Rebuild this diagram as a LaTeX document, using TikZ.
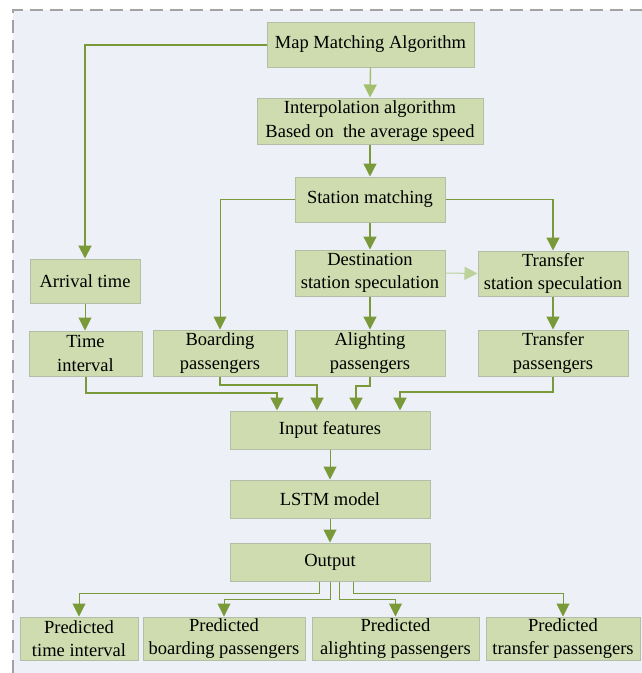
\documentclass[tikz,border=0pt]{standalone}
\usepackage{fontspec}
\setmainfont{Liberation Serif}
\usetikzlibrary{arrows.meta}
\definecolor{bgc}{HTML}{EDF0F6}
\definecolor{boxfill}{HTML}{CFDCAF}
\definecolor{boxline}{HTML}{B4BDA6}
\definecolor{darkg}{HTML}{7A9A3A}
\definecolor{lightg}{HTML}{A3BF6C}
\definecolor{paleg}{HTML}{BDD19A}
\definecolor{framec}{HTML}{A2A2A2}
\tikzset{
  box/.style={draw=boxline, line width=1pt, fill=boxfill, align=center,
    inner sep=0pt, font=\fontsize{18.5}{23.5}\selectfont},
  tip/.style={-{Triangle[width=13pt,length=13pt]}},
  heavy/.style={tip, draw=darkg, line width=2pt, color=darkg},
  medium/.style={tip, draw=lightg, line width=1.4pt, color=darkg},
  thin/.style={tip, draw=paleg, line width=1pt, color=darkg},
  lighttip/.style={tip, draw=lightg, line width=1.4pt, color=lightg},
}
\begin{document}
\begin{tikzpicture}[x=1pt,y=-1pt]
\useasboundingbox (0,0) rectangle (642,673);
% panel and its dashed frame
\fill[bgc] (13,10) rectangle (642,673);
\draw[framec, line width=1.6pt, dash pattern=on 13pt off 7pt] (13,673) -- (13,10) -- (642,10);

% boxes
\node[box, minimum width=207pt, minimum height=45pt] (map) at (370.5,44.5) {Map Matching Algorithm};
\node[box, minimum width=226pt, minimum height=46pt] (interp) at (370,121) {Interpolation algorithm\\Based on~ the average speed};
\node[box, minimum width=150pt, minimum height=45pt] (station) at (370,199.5) {Station matching};
\node[box, minimum width=110pt, minimum height=44pt] (arrival) at (85,281) {Arrival time};
\node[box, minimum width=150pt, minimum height=46pt] (dest) at (370,273) {Destination\\station speculation};
\node[box, minimum width=150pt, minimum height=45pt] (trspec) at (553,273.5) {Transfer\\station speculation};
\node[box, minimum width=113pt, minimum height=45pt] (timeint) at (85.5,353.5) {Time\\interval};
\node[box, minimum width=134pt, minimum height=46pt] (board) at (220,353) {Boarding\\passengers};
\node[box, minimum width=150pt, minimum height=46pt] (alight) at (370,353) {Alighting\\passengers};
\node[box, minimum width=150pt, minimum height=46pt] (trpass) at (553,353) {Transfer\\passengers};
\node[box, minimum width=200pt, minimum height=38pt] (input) at (330,430) {Input features};
\node[box, minimum width=200pt, minimum height=38pt] (lstm) at (330,499) {LSTM model};
\node[box, minimum width=200pt, minimum height=38pt] (output) at (330,562) {Output};
\node[box, minimum width=118pt, minimum height=43pt] (p1) at (79,638.5) {Predicted\\time interval};
\node[box, minimum width=162pt, minimum height=43pt] (p2) at (224,638.5) {Predicted\\boarding passengers};
\node[box, minimum width=167pt, minimum height=43pt] (p3) at (395.5,638.5) {Predicted\\alighting passengers};
\node[box, minimum width=154pt, minimum height=43pt] (p4) at (563,638.5) {Predicted\\transfer passengers};

% upper chain
\draw[lighttip] (map.south) -- (interp.north);
\draw[heavy] (map.west) -| (arrival.north);
\draw[medium] (interp.south) -- (station.north);
\draw[thin] (station.west) -| (board.north);
\draw[medium] (station.east) -| (trspec.north);
\draw[medium] (station.south) -- (dest.north);
\draw[thin, draw=paleg, color=paleg] (dest.east) -- (trspec.west);
\draw[medium] (dest.south) -- (alight.north);
\draw[medium] (trspec.south) -- (trpass.north);
\draw[thin] (arrival.south) -- (arrival.south |- timeint.north);

% features gathered into the input
\draw[heavy] (timeint.south) -- ++(0,16) -| ([xshift=-53pt]input.north);
\draw[heavy] (board.south) -- ++(0,8) -| ([xshift=-13pt]input.north);
\draw[heavy] (alight.south) -- ++(0,9) -| ([xshift=26pt]input.north);
\draw[heavy] (trpass.south) -- ++(0,15) -| ([xshift=70pt]input.north);

% model and predictions
\draw[thin] (input.south) -- (lstm.north);
\draw[thin] (lstm.south) -- (output.north);
\draw[thin] ([xshift=-11pt]output.south) -- ++(0,12) -| (p1.north);
\draw[thin] (output.south) -- ++(0,18) -| (p2.north);
\draw[thin] ([xshift=9pt]output.south) -- ++(0,18) -| (p3.north);
\draw[thin] ([xshift=23pt]output.south) -- ++(0,12) -| (p4.north);
\end{tikzpicture}
\end{document}
